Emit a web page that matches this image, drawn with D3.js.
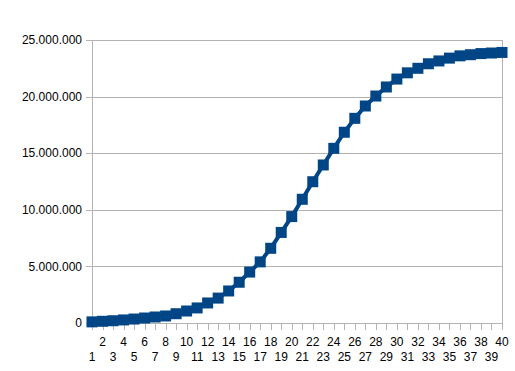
<!DOCTYPE html>
<html>
<head>
<meta charset="utf-8">
<script src="https://cdn.jsdelivr.net/npm/d3@7"></script>
<style>
  body { margin: 0; background: #fff; }
  svg { display: block; }
  text { font-family: "Liberation Sans", Arial, sans-serif; font-size: 12px; fill: #000; }
</style>
</head>
<body>
<div class="canvas"></div>
<script>
// data
const categories = d3.range(1, 41);
const values = [
  100000, 150000, 200000, 270000, 350000, 440000, 530000, 620000, 820000, 1060000,
  1330000, 1770000, 2200000, 2830000, 3600000, 4500000, 5400000, 6600000, 8000000, 9400000,
  10930000, 12480000, 13960000, 15430000, 16850000, 18080000, 19170000, 20050000, 20850000, 21550000,
  22100000, 22500000, 22900000, 23150000, 23400000, 23600000, 23700000, 23800000, 23850000, 23900000
];
const yTicks = [0, 5000000, 10000000, 15000000, 20000000, 25000000];

// margins
const margin = {top: 40, right: 13, bottom: 48, left: 92};
const width = 515, height = 371;
const graphWidth = width - margin.left - margin.right;
const graphHeight = height - margin.top - margin.bottom;

const svg = d3.select('.canvas').append('svg')
    .attr('width', width)
    .attr('height', height);

const graph = svg.append('g')
    .attr('transform', `translate(${margin.left}, ${margin.top})`);

// scales
const x = d3.scalePoint()
    .domain(categories)
    .range([0, graphWidth]);
const y = d3.scaleLinear()
    .domain([0, 25000000])
    .range([graphHeight, 0]);

const locale = d3.formatLocale({decimal: ',', thousands: '.', grouping: [3], currency: ['', '']});
const fmt = locale.format(',');

// grid lines
graph.append('g')
  .selectAll('line')
  .data(yTicks)
  .join('line')
    .attr('x1', -6)
    .attr('x2', graphWidth)
    .attr('y1', d => Math.round(y(d)) + 0.5)
    .attr('y2', d => Math.round(y(d)) + 0.5)
    .attr('stroke', '#b3b3b3');

// left and right frame lines
graph.append('line')
    .attr('x1', 0.5).attr('x2', 0.5)
    .attr('y1', 0).attr('y2', graphHeight)
    .attr('stroke', '#b3b3b3');
graph.append('line')
    .attr('x1', graphWidth + 0.5).attr('x2', graphWidth + 0.5)
    .attr('y1', 0).attr('y2', graphHeight)
    .attr('stroke', '#b3b3b3');

// y labels
graph.append('g')
  .selectAll('text')
  .data(yTicks)
  .join('text')
    .attr('x', -10)
    .attr('y', d => y(d))
    .attr('dy', '0.35em')
    .attr('text-anchor', 'end')
    .text(d => fmt(d));

// x ticks
graph.append('g')
  .selectAll('line')
  .data(categories)
  .join('line')
    .attr('x1', d => Math.round(x(d)) + 0.5)
    .attr('x2', d => Math.round(x(d)) + 0.5)
    .attr('y1', graphHeight)
    .attr('y2', graphHeight + 7)
    .attr('stroke', '#b3b3b3');

// x labels, staggered
graph.append('g')
  .selectAll('text')
  .data(categories)
  .join('text')
    .attr('x', d => x(d))
    .attr('y', d => graphHeight + (d % 2 === 0 ? 23 : 38))
    .attr('text-anchor', 'middle')
    .text(d => d);

// line
const line = d3.line()
    .x((d, i) => x(categories[i]))
    .y(d => y(d));

graph.append('path')
    .datum(values)
    .attr('fill', 'none')
    .attr('stroke', '#004586')
    .attr('stroke-width', 4)
    .attr('stroke-linejoin', 'round')
    .attr('d', line);

// square markers
const size = 11;
graph.append('g')
  .selectAll('rect')
  .data(values)
  .join('rect')
    .attr('x', (d, i) => x(categories[i]) - size / 2)
    .attr('y', d => y(d) - size / 2)
    .attr('width', size)
    .attr('height', size)
    .attr('fill', '#004586');
</script>
</body>
</html>
